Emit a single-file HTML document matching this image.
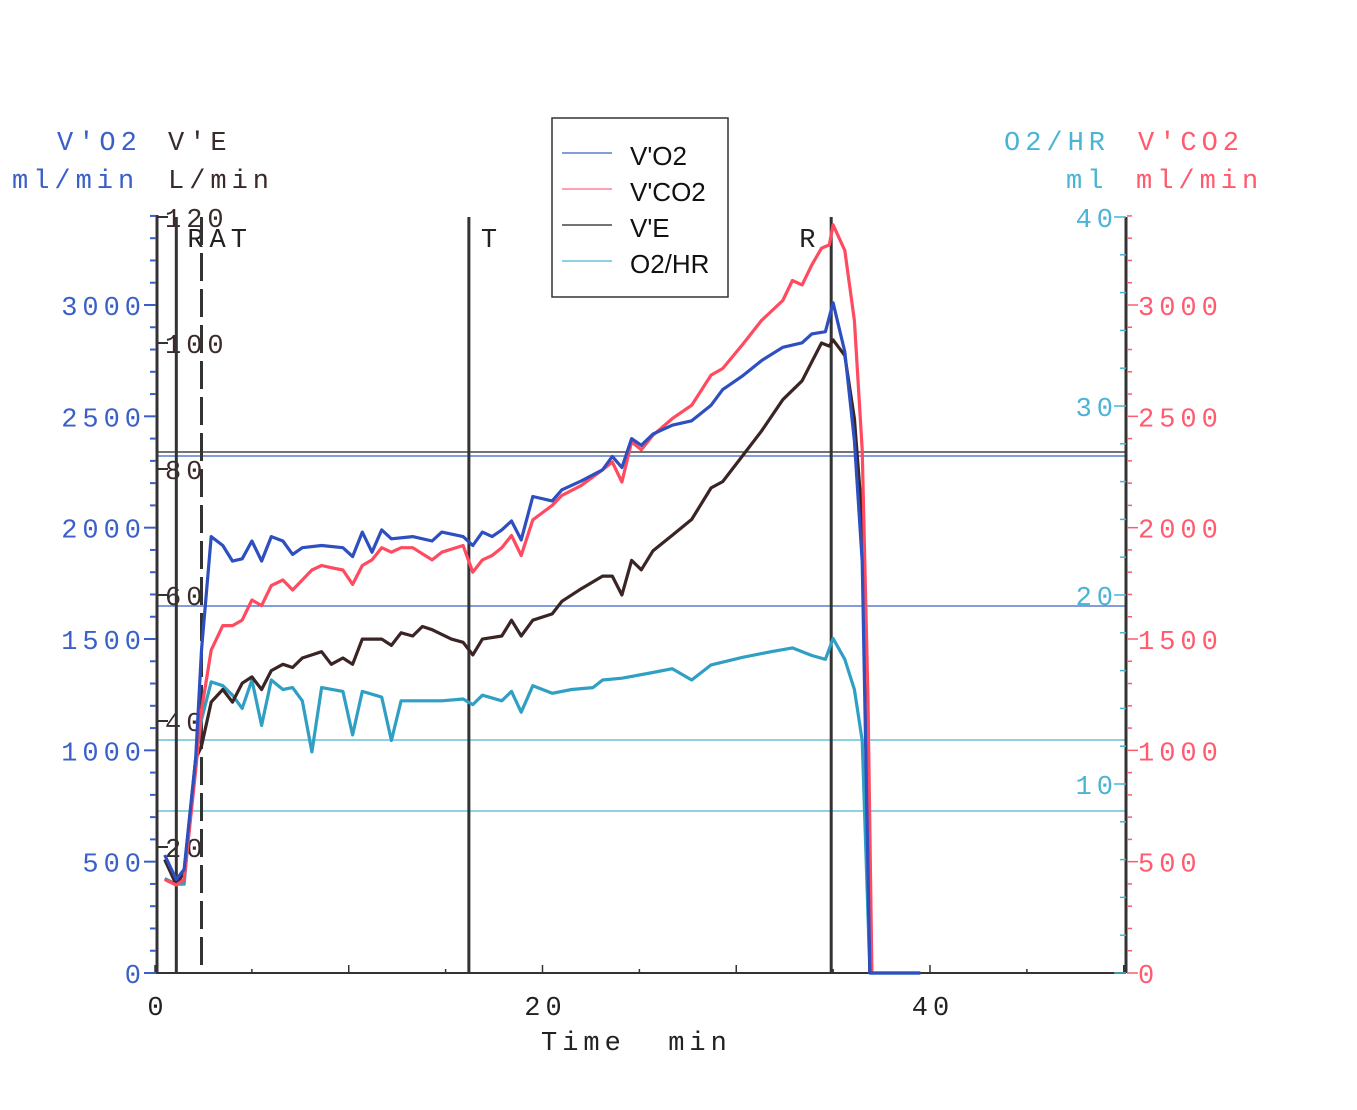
<!DOCTYPE html>
<html><head><meta charset="utf-8"><style>
html,body{margin:0;padding:0;background:#fff;}
svg{display:block;}
.mono{font-family:"Liberation Mono",monospace;font-size:27px;letter-spacing:5px;}
.sans{font-family:"Liberation Sans",sans-serif;font-size:26px;}
</style></head><body>
<svg id="chart" width="1357" height="1110" viewBox="0 0 1357 1110">
<g id="static">
<text class="mono" x="57" y="150" fill="#3a5fc8">V'O2</text>
<text class="mono" x="12" y="188" fill="#3a5fc8">ml/min</text>
<text class="mono" x="168" y="150" fill="#3a2a2a">V'E</text>
<text class="mono" x="168" y="188" fill="#3a2a2a">L/min</text>
<text class="mono" x="1004" y="150" fill="#4ab4d4">O2/HR</text>
<text class="mono" x="1066" y="188" fill="#4ab4d4">ml</text>
<text class="mono" x="1138" y="150" fill="#ff5a6e">V'CO2</text>
<text class="mono" x="1136" y="188" fill="#ff5a6e">ml/min</text>
<text class="mono" x="541" y="1050" fill="#222">Time&#160; min</text>
<g>
<rect x="552" y="118" width="176" height="179" fill="#fff" stroke="#333" stroke-width="1.5"/>
<line x1="562" y1="153" x2="612" y2="153" stroke="#3a5fc8" stroke-width="1.2"/>
<text class="sans" x="630" y="165" fill="#111">V'O2</text>
<line x1="562" y1="189" x2="612" y2="189" stroke="#ff6a7e" stroke-width="1.2"/>
<text class="sans" x="630" y="201" fill="#111">V'CO2</text>
<line x1="562" y1="225" x2="612" y2="225" stroke="#222" stroke-width="1.2"/>
<text class="sans" x="630" y="237" fill="#111">V'E</text>
<line x1="562" y1="261" x2="612" y2="261" stroke="#4ab4d4" stroke-width="1.2"/>
<text class="sans" x="630" y="273" fill="#111">O2/HR</text>
</g>
</g>
<g id="dyn"></g>
</svg>
<script>
const xTicks=[0,20,40];
const vo2Ticks=[0,500,1000,1500,2000,2500,3000];
const veTicks=[20,40,60,80,100,120];
const o2hrTicks=[10,20,30,40];
const vco2Ticks=[0,500,1000,1500,2000,2500,3000];
const markerTimes=[1.1,2.4,16.2,34.9];
const markerLabels=["R","AT","T","R"];
const vo2T=[0.5,1.1,1.5,2.1,2.4,2.9,3.5,4.0,4.5,5.0,5.5,6.0,6.6,7.1,7.6,8.6,9.7,10.2,10.7,11.2,11.7,12.2,13.3,14.3,14.8,15.9,16.4,16.9,17.4,17.9,18.4,18.9,19.5,20.5,21.0,22.0,23.1,23.6,24.1,24.6,25.1,25.7,26.7,27.7,28.7,29.3,30.3,31.3,32.4,33.4,33.9,34.6,35.0,35.6,36.1,36.5,36.9,39.5];
const vo2V=[530,420,465,965,1450,1960,1920,1850,1860,1940,1850,1960,1940,1880,1910,1920,1910,1870,1980,1890,1990,1950,1960,1940,1980,1960,1920,1980,1960,1990,2030,1945,2140,2120,2170,2210,2260,2320,2270,2400,2370,2420,2460,2480,2550,2620,2680,2750,2810,2830,2870,2880,3010,2790,2390,1850,0,0];
const vco2T=[0.5,1.1,1.5,2.1,2.4,2.9,3.5,4.0,4.5,5.0,5.5,6.0,6.6,7.1,7.6,8.1,8.6,9.1,9.7,10.2,10.7,11.2,11.7,12.2,12.7,13.3,14.3,14.8,15.9,16.4,16.9,17.4,17.9,18.4,18.9,19.5,20.5,21.0,22.0,23.1,23.6,24.1,24.6,25.1,25.7,26.7,27.7,28.7,29.3,30.3,31.3,32.4,32.9,33.4,33.9,34.4,34.8,35.0,35.6,36.1,36.5,36.8,37.0];
const vco2V=[420,395,420,910,1180,1450,1560,1560,1585,1675,1650,1740,1765,1720,1765,1810,1830,1820,1810,1745,1830,1855,1910,1890,1910,1910,1855,1890,1920,1800,1855,1875,1910,1965,1875,2035,2100,2145,2190,2260,2295,2205,2385,2350,2415,2490,2550,2685,2715,2820,2930,3020,3110,3090,3180,3255,3270,3360,3245,2930,2350,1225,0];
const veT=[0.5,1.1,1.5,2.1,2.4,2.9,3.5,4.0,4.5,5.0,5.5,6.0,6.6,7.1,7.6,8.1,8.6,9.1,9.7,10.2,10.7,11.7,12.2,12.7,13.3,13.8,14.3,15.3,15.9,16.4,16.9,17.9,18.4,18.9,19.5,20.5,21.0,22.0,23.1,23.6,24.1,24.6,25.1,25.7,26.7,27.7,28.7,29.3,30.3,31.3,32.4,33.4,33.9,34.4,34.8,35.0,35.6,36.1,36.5,36.9];
const veV=[18,14,16,34,36,43,45,43,46,47,45,48,49,48.5,50,50.5,51,49,50,49,53,53,52,54,53.5,55,54.5,53,52.5,50.5,53,53.5,56,53.5,56,57,59,61,63,63,60,65.5,64,67,69.5,72,77,78,82,86,91,94,97,100,99.5,100.5,98,88,72,0];
const o2hrT=[0.5,1.1,1.5,2.1,2.4,2.9,3.5,4.0,4.5,5.0,5.5,6.0,6.6,7.1,7.6,8.1,8.6,9.7,10.2,10.7,11.7,12.2,12.7,13.8,14.8,15.9,16.4,16.9,17.9,18.4,18.9,19.5,20.5,21.5,22.6,23.1,24.1,25.7,26.7,27.7,28.7,30.3,31.8,32.9,33.9,34.6,35.0,35.6,36.1,36.5,36.9,39.5];
const o2hrV=[5,4.7,4.7,11.3,13.4,15.4,15.2,14.7,14,15.5,13.1,15.5,15,15.1,14.4,11.7,15.1,14.9,12.6,14.9,14.6,12.3,14.4,14.4,14.4,14.5,14.2,14.7,14.4,14.9,13.8,15.2,14.8,15,15.1,15.5,15.6,15.9,16.1,15.5,16.3,16.7,17,17.2,16.8,16.6,17.7,16.6,15,12.3,0,0];

const X0=155,PXMIN=19.375,YB=973;
const xs=t=>X0+t*PXMIN;
const yVO2=v=>YB-v*0.22267;
const yVE=v=>YB-v*6.3;
const yO2=v=>YB-v*18.9;
const NS='http://www.w3.org/2000/svg';
const g=document.getElementById('dyn');
function mk(tag,attrs,parent){const e=document.createElementNS(NS,tag);for(const k in attrs)e.setAttribute(k,attrs[k]);(parent||g).appendChild(e);return e;}
function txt(s,x,y,fill,anchor){const e=mk('text',{x:x,y:y,fill:fill,'text-anchor':anchor||'start','class':'mono'});e.textContent=s;return e;}

const hl=[[452,'#222'],[456,'#3a5fc8'],[606,'#3a5fc8'],[740,'#4ab4d4'],[811,'#4ab4d4']];
hl.forEach(h=>{const e=mk('line',{x1:157,x2:1126,y1:h[0],y2:h[0],stroke:h[1],'stroke-width':1.3});

});

const xa=mk('line',{x1:155,x2:1126,y1:YB,y2:YB,stroke:'#333','stroke-width':2});


for(let t=0;t<=50;t+=5){mk('line',{x1:xs(t),x2:xs(t),y1:YB,y2:YB-(t%10==0?8:4),stroke:'#333','stroke-width':1.5});}
xTicks.forEach(t=>{const e=txt(String(t),xs(t)+3,1015,'#222','middle');

});

const la=mk('line',{x1:157,x2:157,y1:215,y2:YB,stroke:'#333','stroke-width':3});


for(let v=0;v<=3400;v+=100){const y=yVO2(v);mk('line',{x1:v%500==0?144:150,x2:156,y1:y,y2:y,stroke:'#3a5fc8','stroke-width':2});}
vo2Ticks.forEach(v=>{const e=txt(String(v),146,yVO2(v)+10,'#3a5fc8','end');

});
veTicks.concat([0]).forEach(v=>{mk('line',{x1:158,x2:168,y1:yVE(v),y2:yVE(v),stroke:'#333','stroke-width':2});});
veTicks.forEach(v=>{const e=txt(String(v),165,yVE(v)+10,'#3a2a2a','start');

});

const ra=mk('line',{x1:1126,x2:1126,y1:217,y2:YB,stroke:'#333','stroke-width':3});


for(let v=0;v<=3400;v+=100){const y=yVO2(v);mk('line',{x1:1127,x2:v%500==0?1138:1132,y1:y,y2:y,stroke:'#ff5a6e','stroke-width':1.5});}
vco2Ticks.forEach(v=>{const e=txt(String(v),1138,yVO2(v)+10,'#ff5a6e','start');

});
for(let v=0;v<=40;v+=2){const y=yO2(v);mk('line',{x1:v%10==0?1114:1120,x2:1126,y1:y,y2:y,stroke:'#4ab4d4','stroke-width':1.5});}
o2hrTicks.forEach(v=>{const e=txt(String(v),1118,yO2(v)+10,'#4ab4d4','end');

});

markerTimes.forEach((t,i)=>{const x=xs(t);
const attrs={x1:x,x2:x,y1:217,y2:YB,stroke:'#333','stroke-width':3};
if(markerLabels[i]==='AT')attrs['stroke-dasharray']='28 8';
const e=mk('line',attrs);


const lx=i===0?x+11:(i===1?x+8:(i===3?x-32:x+12));
const tt=txt(markerLabels[i],lx,247,'#222','start');

});

function series(T,V,yf,color,name){
const d=T.map((t,i)=>(i?'L':'M')+xs(t).toFixed(1)+','+yf(V[i]).toFixed(1)).join('');
const p=mk('path',{d:d,fill:'none',stroke:color,'stroke-width':3.2,'stroke-linejoin':'round'});

}
series(o2hrT,o2hrV,yO2,'#2f9fc4','o2hr-line');
series(veT,veV,yVE,'#3a2424','ve-line');
series(vco2T,vco2V,yVO2,'#ff4a60','vco2-line');
series(vo2T,vo2V,yVO2,'#2d4fbf','vo2-line');
</script>
</body></html>
